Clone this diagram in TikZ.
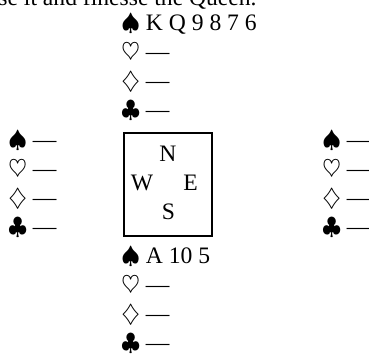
\documentclass[tikz,border=0pt]{standalone}
\usepackage{fontspec}
\setmainfont{Liberation Serif}
\tikzset{
  hand/.style={
    anchor = base west,
    inner sep = 0pt,
    font = \fontsize{11.8}{14.5}\selectfont
  },
  compass/.style={
    anchor = base,
    inner sep = 0pt,
    font = \fontsize{11.8}{14.5}\selectfont
  },
  prose/.style={
    anchor = base east,
    inner sep = 0pt,
    font = \fontsize{11.8}{14.5}\selectfont
  },
  table/.style={
    draw,
    line width = 1.1pt,
    minimum width = 44pt,
    minimum height = 51.5pt,
    inner sep = 0pt
  }
}
\begin{document}
\begin{tikzpicture}[x=0.5pt, y=-0.5pt]
    \useasboundingbox (0,0) rectangle (369,354);
    \clip (0,0) rectangle (369,354);
    \def\dy{29}
    \node[prose] (prose) at (257,5) {se it and finesse the Queen.};
    % the four hands
    \foreach \s/\c [count=\i from 0] in {\spadesuit/K Q 9 8 7 6, \heartsuit/---, \diamondsuit/---, \clubsuit/---}
        \node[hand] (n\i) at (121,{30+\dy*\i}) {$\s$ \c};
    \foreach \s/\c [count=\i from 0] in {\spadesuit/A 10 5, \heartsuit/---, \diamondsuit/---, \clubsuit/---}
        \node[hand] (s\i) at (121,{263+\dy*\i}) {$\s$ \c};
    \foreach \s [count=\i from 0] in {\spadesuit, \heartsuit, \diamondsuit, \clubsuit} {
        \node[hand] (w\i) at (8,{147+\dy*\i}) {$\s$ ---};
        \node[hand] (e\i) at (322,{147+\dy*\i}) {$\s$ ---};
    }
    % the table
    \node[table] (board) at (168,184.5) {};
    \node[compass] (N) at (168,161) {N};
    \node[compass] (W) at (142,190) {W};
    \node[compass] (E) at (190.5,190) {E};
    \node[compass] (S) at (168.5,219) {S};
\end{tikzpicture}
\end{document}
